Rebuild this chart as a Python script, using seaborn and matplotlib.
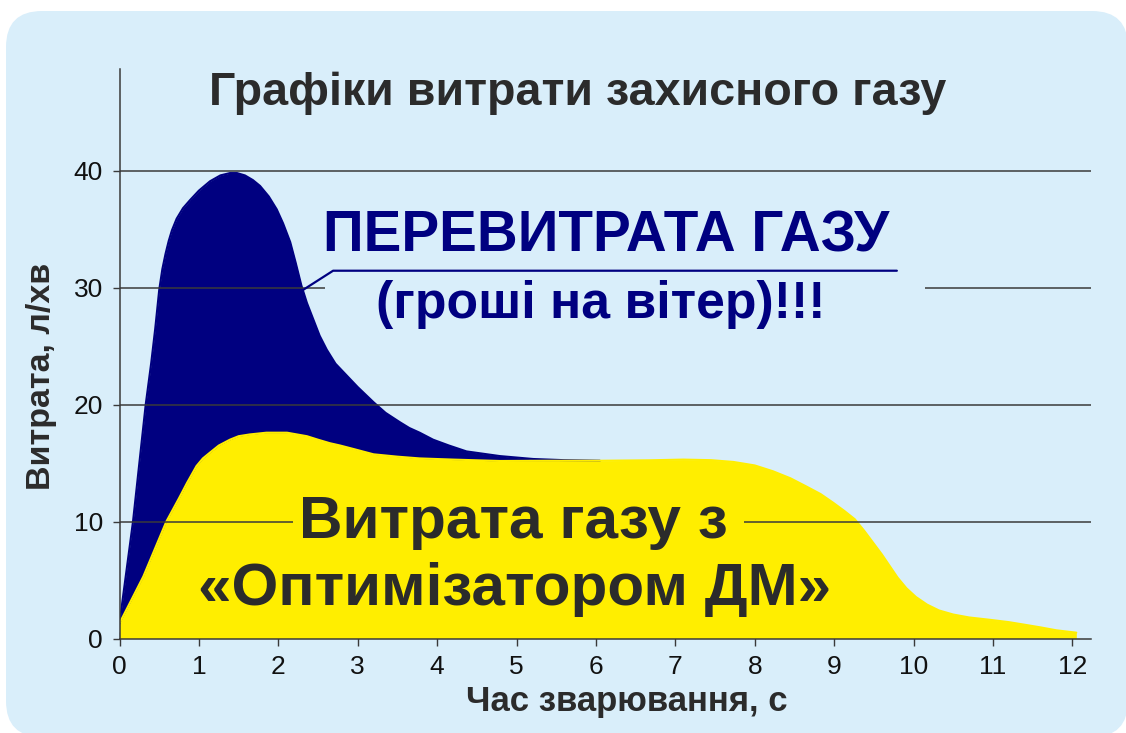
import matplotlib
matplotlib.use('Agg')
import matplotlib.pyplot as plt
from matplotlib.patches import FancyBboxPatch
from matplotlib.transforms import IdentityTransform
import seaborn as sns
import pandas as pd

# total gas consumption without optimizer (navy area)
navy_x = [0, 0.17, 0.33, 0.40, 0.45, 0.50, 0.54, 0.58, 0.62, 0.66, 0.72, 0.80,
          0.89, 1.00, 1.14, 1.27, 1.39, 1.48, 1.58, 1.68, 1.77, 1.88, 1.98,
          2.06, 2.15, 2.22, 2.29, 2.36, 2.44, 2.52, 2.61, 2.72, 2.86, 3.00,
          3.20, 3.35, 3.53, 3.65, 3.78, 3.95, 4.15, 4.37, 4.58, 4.79, 5.21,
          5.60, 6.05]
navy_y = [1.3, 10, 20, 23.6, 26.5, 29.8, 31.6, 32.9, 34.0, 34.9, 35.9, 36.8,
          37.5, 38.3, 39.1, 39.6, 39.8, 39.8, 39.6, 39.2, 38.7, 37.8, 36.7,
          35.5, 33.9, 32.1, 30.2, 28.7, 27.3, 25.9, 24.7, 23.5, 22.5, 21.5,
          20.2, 19.3, 18.5, 18.0, 17.6, 17.0, 16.5, 16.0, 15.8, 15.6, 15.35,
          15.25, 15.2]

# consumption with the optimizer (yellow area)
yellow_x = [0, 0.30, 0.59, 0.75, 0.85, 0.97, 1.05, 1.14, 1.25, 1.39, 1.50,
            1.64, 1.85, 2.11, 2.36, 2.50, 2.65, 2.78, 2.95, 3.20, 3.50, 3.78,
            4.20, 4.79, 5.40, 6.05, 6.68, 7.10, 7.45, 7.73, 8.00, 8.23, 8.45,
            8.65, 8.83, 8.99, 9.13, 9.26, 9.38, 9.49, 9.60, 9.70, 9.80, 9.91,
            10.03, 10.17, 10.32, 10.50, 10.70, 10.96, 11.20, 11.38, 11.60,
            11.80, 12.05]
yellow_y = [1.3, 5.3, 10, 12.0, 13.3, 14.75, 15.4, 15.9, 16.5, 17.0, 17.3,
            17.45, 17.6, 17.6, 17.3, 17.0, 16.7, 16.5, 16.2, 15.75, 15.55, 15.4,
            15.3, 15.18, 15.2, 15.2, 15.24, 15.3, 15.25, 15.1, 14.8, 14.3, 13.7,
            13.0, 12.35, 11.6, 10.9, 10.2, 9.2, 8.2, 7.2, 6.2, 5.2, 4.3,
            3.55, 2.9, 2.4, 2.05, 1.8, 1.6, 1.4, 1.2, 0.95, 0.7, 0.5]

x_ticks = list(range(0, 13))
y_ticks = [0, 10, 20, 30, 40]

title = 'Графіки витрати захисного газу'
over_text = 'ПЕРЕВИТРАТА ГАЗУ'
over_sub = '(гроші на вітер)!!!'
opt_line1 = 'Витрата газу з'
opt_line2 = '«Оптимізатором ДМ»'
x_label = 'Час зварювання, с'
y_label = 'Витрата, л/хв'

NAVY = '#000080'
YELLOW = '#FFEE00'
BG = '#D9EEFA'
DARK = '#2B2B2B'
GRID = '#3A3A3A'

sns.set_theme(style='white')
plt.rcParams['font.family'] = ['Liberation Sans', 'DejaVu Sans']

W, H = 1126, 733
fig = plt.figure(figsize=(W / 100, H / 100), dpi=100)
fig.patch.set_facecolor('white')

# rounded light-blue panel behind everything
panel = FancyBboxPatch((6, -4), 1122, 726, boxstyle='round,pad=0,rounding_size=36',
                       transform=IdentityTransform(), fc=BG, ec='none', zorder=-5)
fig.add_artist(panel)

ax = fig.add_axes([119.5 / W, 1 - 638.5 / H, (1091 - 119.5) / W, (638.5 - 69) / H])
ax.patch.set_alpha(0)

df = pd.concat([
    pd.DataFrame({'t': navy_x, 'rate': navy_y, 'series': 'navy'}),
    pd.DataFrame({'t': yellow_x, 'rate': yellow_y, 'series': 'yellow'}),
])

ax.fill_between(navy_x, navy_y, 0, color=NAVY, lw=0, zorder=1)
ax.fill_between(yellow_x, yellow_y, 0, color=YELLOW, lw=0, zorder=1.2)
sns.lineplot(data=df, x='t', y='rate', hue='series', palette=[NAVY, YELLOW],
             legend=False, linewidth=1.5, sort=False, ax=ax, zorder=1.3,
             solid_capstyle='round')
# yellow outline above the navy one
for ln in ax.get_lines():
    if ln.get_color() in (YELLOW, YELLOW.lower()):
        ln.set_zorder(1.4)

ax.set_xlim(0, 12.235)
ax.set_ylim(0, 48.7)

# grid lines, partly broken behind the captions
ax.hlines(20, 0, 12.235, color=GRID, lw=1.1, zorder=2)
ax.hlines(40, 0, 12.235, color=GRID, lw=1.1, zorder=2)
ax.hlines(30, 0, 2.59, color=GRID, lw=1.1, zorder=2)
ax.hlines(30, 10.14, 12.235, color=GRID, lw=1.1, zorder=2)
ax.hlines(10, 0, 2.19, color=GRID, lw=1.1, zorder=2)
ax.hlines(10, 7.86, 12.235, color=GRID, lw=1.1, zorder=2)

# callout line to the overspend caption
ax.plot([2.31, 2.69, 9.79], [29.8, 31.45, 31.45], color=NAVY, lw=1.6, zorder=2.5)

ax.set_xticks(x_ticks)
ax.set_yticks(y_ticks)
ax.tick_params(axis='x', direction='inout', length=10, width=1, color=GRID,
               labelsize=19, labelcolor='#111111', pad=7)
ax.tick_params(axis='y', direction='out', length=5, width=1, color=GRID,
               labelsize=19, labelcolor='#111111', pad=7)
ax.tick_params(left=True, bottom=True)

for side in ['top', 'right']:
    ax.spines[side].set_visible(False)
for side in ['left', 'bottom']:
    ax.spines[side].set_color(GRID)
    ax.spines[side].set_linewidth(1.1)
    ax.spines[side].set_zorder(3)
ax.set_xlabel('')
ax.set_ylabel('')


def fx(px):
    return px / W


def fy(py):
    return 1 - py / H


fig.text(fx(577.5), fy(105), title, ha='center', va='baseline',
         fontsize=33.6, fontweight='bold', color=DARK)
fig.text(fx(606), fy(252), over_text, ha='center', va='baseline',
         fontsize=40.8, fontweight='bold', color=NAVY)
fig.text(fx(601), fy(318), over_sub, ha='center', va='baseline',
         fontsize=37.3, fontweight='bold', color=NAVY)
fig.text(fx(513.5), fy(538), opt_line1, ha='center', va='baseline',
         fontsize=43.5, fontweight='bold', color=DARK)
fig.text(fx(514.5), fy(605), opt_line2, ha='center', va='baseline',
         fontsize=43.3, fontweight='bold', color=DARK)
fig.text(fx(627), fy(711), x_label, ha='center', va='baseline',
         fontsize=25, fontweight='bold', color=DARK)
fig.text(fx(42), fy(376), y_label, ha='center', va='center', rotation=90,
         fontsize=24.5, fontweight='bold', color=DARK)

fig.savefig('out.png', dpi=100, facecolor='white')
